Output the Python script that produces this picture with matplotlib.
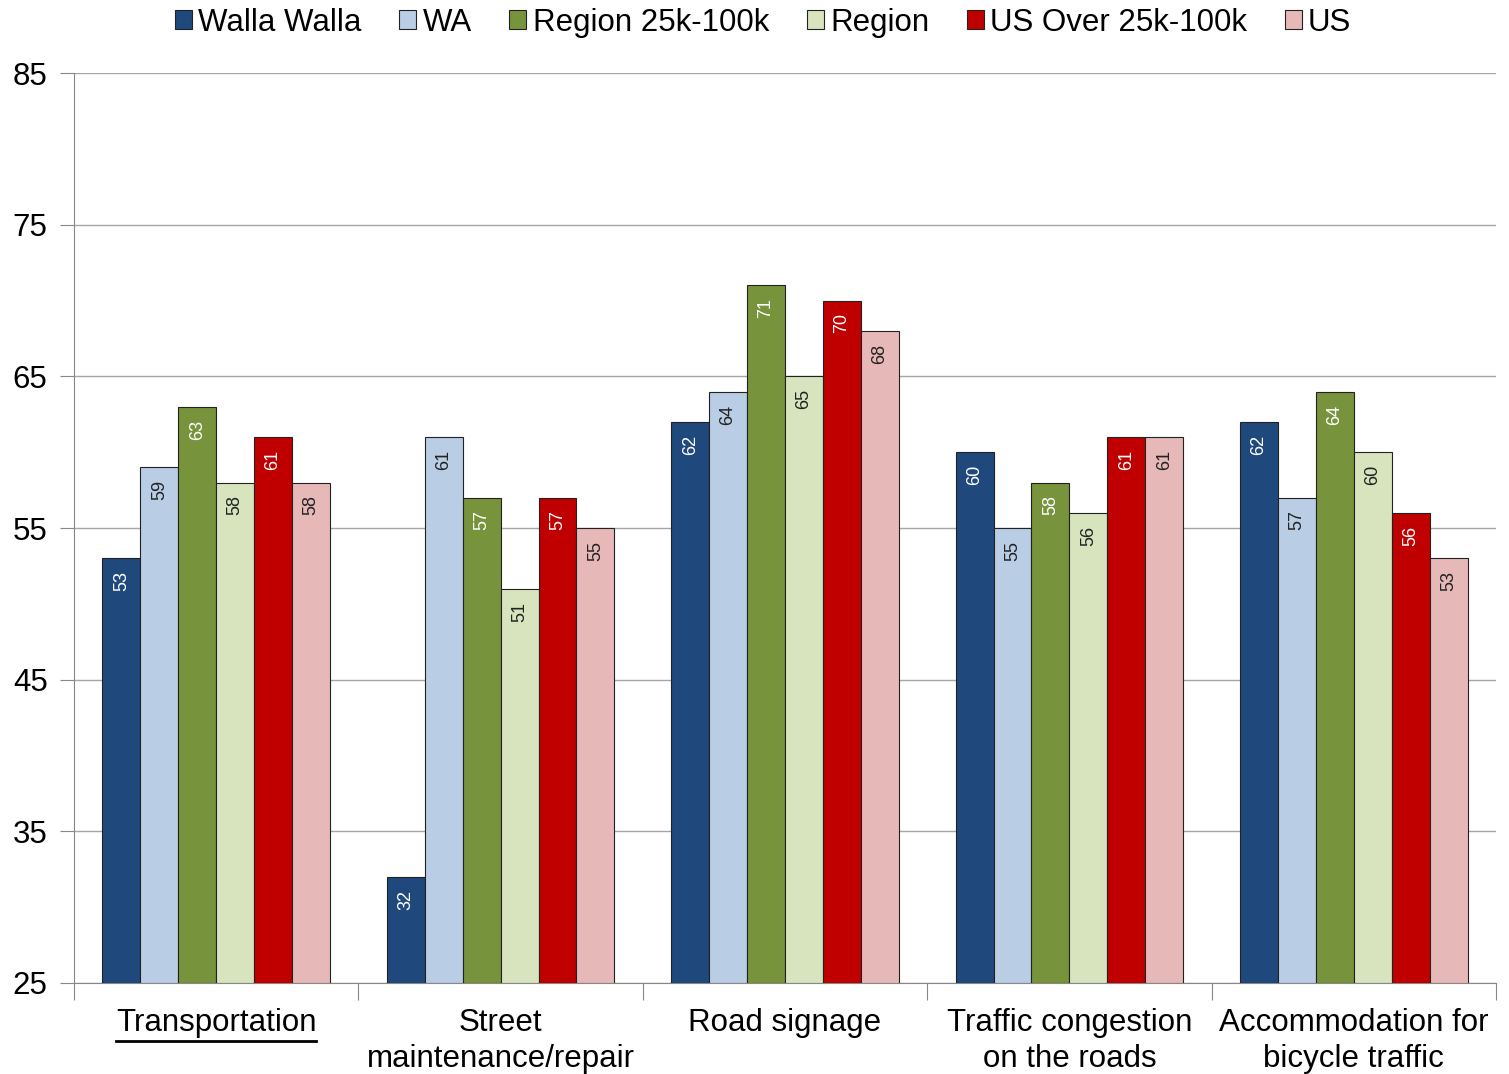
import matplotlib.pyplot as plt
import numpy as np
from matplotlib.lines import Line2D

plt.rcParams["font.family"] = ["Liberation Sans", "DejaVu Sans"]

categories = [
    "Transportation",
    "Street\nmaintenance/repair",
    "Road signage",
    "Traffic congestion\non the roads",
    "Accommodation for\nbicycle traffic",
]
series_names = ["Walla Walla", "WA", "Region 25k-100k", "Region", "US Over 25k-100k", "US"]
walla_walla = [53, 32, 62, 60, 62]
wa = [59, 61, 64, 55, 57]
region_25k_100k = [63, 57, 71, 58, 64]
region = [58, 51, 65, 56, 60]
us_25k_100k = [61, 57, 70, 61, 56]
us = [58, 55, 68, 61, 53]

series = [walla_walla, wa, region_25k_100k, region, us_25k_100k, us]
colors = ["#1f497d", "#b9cde5", "#77933c", "#d7e4bd", "#c00000", "#e6b9b8"]
label_colors = ["white", "#222222", "white", "#222222", "white", "#222222"]

fig = plt.figure(figsize=(15.09, 10.74), dpi=100)
ax = fig.add_axes([74 / 1509, 1 - 983 / 1074, 1422 / 1509, 910 / 1074])

x = np.arange(len(categories))
width = 0.8 / len(series)
for i, (vals, name) in enumerate(zip(series, series_names)):
    pos = x - 0.4 + width * (i + 0.5)
    ax.bar(pos, np.array(vals) - 25, width, bottom=25, color=colors[i],
           edgecolor="#222222", linewidth=0.8, label=name, zorder=3)
    for p, v in zip(pos, vals):
        ax.text(p, v - 0.85, f"{v}", rotation=90, ha="center", va="top",
                fontsize=13, color=label_colors[i], zorder=4)

ax.set_xlim(-0.5, len(categories) - 0.5)
ax.set_ylim(25, 85)
ax.set_yticks(range(25, 86, 10))
ax.tick_params(axis="y", labelsize=22.5, length=10, color="#888888", pad=9)
ax.yaxis.grid(True, color="#a6a6a6", linewidth=1, zorder=0)

# category labels centred under groups, ticks on group boundaries
ax.set_xticks(np.arange(-0.5, len(categories)), minor=False)
ax.set_xticklabels([])
ax.set_xticks(x, minor=True)
ax.set_xticklabels(categories, minor=True, fontsize=22.5, linespacing=1.25)
ax.tick_params(axis="x", which="major", length=12, color="#888888")
ax.tick_params(axis="x", which="minor", length=0, pad=18)

for side in ("top", "right"):
    ax.spines[side].set_visible(False)
for side in ("left", "bottom"):
    ax.spines[side].set_color("#888888")

handles, names = ax.get_legend_handles_labels()
fig.legend(handles, names, loc="upper center", bbox_to_anchor=(763 / 1509, 1 - 6 / 1074),
           ncol=6, frameon=False, fontsize=22.5, handlelength=0.55, handleheight=0.55,
           handletextpad=0.2, columnspacing=1.2, borderaxespad=0.0, borderpad=0.05)

# underline the first category label
fig.canvas.draw()
lbl = ax.xaxis.get_minorticklabels()[0]
bb = lbl.get_window_extent().transformed(fig.transFigure.inverted())
fig.add_artist(Line2D([bb.x0, bb.x1], [bb.y0 - 0.003, bb.y0 - 0.003],
                      transform=fig.transFigure, color="black", linewidth=2))

fig.savefig("out.png", dpi=100)
